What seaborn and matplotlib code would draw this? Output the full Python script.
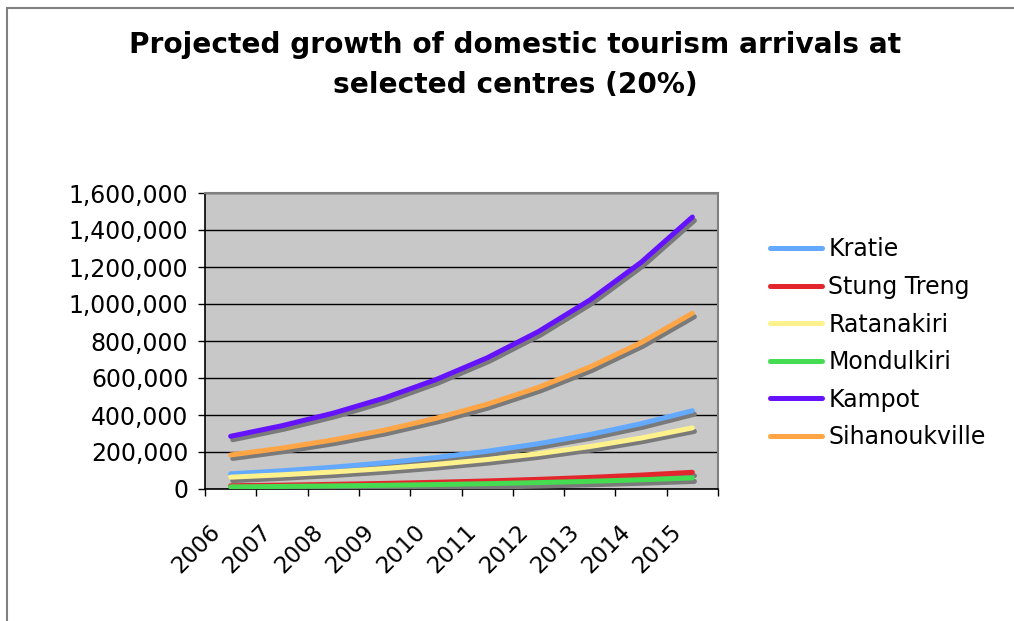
import matplotlib
matplotlib.use("Agg")
import matplotlib.pyplot as plt
import matplotlib.patheffects as pe
from matplotlib.lines import Line2D
from matplotlib.patches import Rectangle
from matplotlib.ticker import FuncFormatter, FixedLocator
import seaborn as sns
import pandas as pd

years = ["2006", "2007", "2008", "2009", "2010", "2011", "2012", "2013", "2014", "2015"]
series_names = ["Kratie", "Stung Treng", "Ratanakiri", "Mondulkiri", "Kampot", "Sihanoukville"]
kratie = [82000, 98400, 118000, 141700, 170000, 204000, 245000, 294000, 353000, 423000]
stung_treng = [17500, 21000, 25200, 30200, 36300, 43500, 52200, 62700, 75200, 90300]
ratanakiri = [64000, 76800, 92200, 110600, 132700, 159200, 191100, 229300, 275200, 330200]
mondulkiri = [11600, 13900, 16700, 20000, 24000, 28900, 34600, 41600, 49900, 59900]
kampot = [285000, 342000, 410000, 492000, 591000, 709000, 851000, 1021000, 1225000, 1470000]
sihanoukville = [184000, 221000, 265000, 318000, 382000, 458000, 549000, 659000, 791000, 950000]
yticks = [0, 200000, 400000, 600000, 800000, 1000000, 1200000, 1400000, 1600000]

colors = ["#63A9FF", "#E3262E", "#FFF28C", "#45DC52", "#6512FF", "#FFA545"]
values = [kratie, stung_treng, ratanakiri, mondulkiri, kampot, sihanoukville]

rows = []
for name, vals in zip(series_names, values):
    for i, v in enumerate(vals):
        rows.append({"idx": i, "value": v, "series": name})
df = pd.DataFrame(rows)

sns.set_theme(style="white")
plt.rcParams["font.family"] = ["DejaVu Sans"]
plt.rcParams["text.color"] = "black"
plt.rcParams["xtick.color"] = "black"
plt.rcParams["ytick.color"] = "black"

fig = plt.figure(figsize=(10.14, 6.21), dpi=100)
ax = fig.add_axes([205/1014, 1-489/621, (718-205)/1014, (489-193)/621])
ax.set_facecolor("#C8C8C8")

sns.lineplot(data=df, x="idx", y="value", hue="series", hue_order=series_names,
             palette=colors, linewidth=3.6, ax=ax, legend=False, zorder=3)
for line in ax.get_lines():
    line.set_solid_capstyle("round")
    line.set_path_effects([pe.SimpleLineShadow(offset=(1.5, -2.5), shadow_color="#7A7A7A", alpha=1.0),
                           pe.Normal()])

ax.set_xlim(-0.5, 9.5)
ax.set_ylim(0, 1600000)
ax.yaxis.set_major_locator(FixedLocator(yticks))
ax.yaxis.set_major_formatter(FuncFormatter(lambda v, p: f"{int(v):,}"))
ax.grid(axis="y", color="#000000", linewidth=1.0, zorder=1)
ax.set_axisbelow(True)

ax.set_xticks([i - 0.5 for i in range(11)])
ax.set_xticklabels([])
ax.tick_params(axis="x", which="major", direction="out", length=5, width=1, color="black", bottom=True)
ax.tick_params(axis="y", which="major", direction="out", length=5, width=1, color="black", left=True,
               labelsize=17, pad=7, labelcolor="black")
for i, y in enumerate(years):
    ax.annotate(y, xy=(i, 0), xycoords=("data", "axes fraction"), xytext=(-10, -28.5),
                textcoords="offset points", rotation=45, ha="right", va="center",
                rotation_mode="anchor", fontsize=16.5, color="black")

ax.set_xlabel("")
ax.set_ylabel("")
for side in ["top", "right"]:
    ax.spines[side].set_color("#808080")
    ax.spines[side].set_linewidth(1.5)
for side in ["left", "bottom"]:
    ax.spines[side].set_color("black")
    ax.spines[side].set_linewidth(1.2)

handles = [Line2D([0], [0], color=c, linewidth=3.6, solid_capstyle="round") for c in colors]
leg = fig.legend(handles, series_names, loc="upper left", bbox_to_anchor=(761/1014, 1-228/621),
                 frameon=False, fontsize=17, handlelength=2.2, handletextpad=0.25,
                 labelspacing=0.575, borderaxespad=0)
for t in leg.get_texts():
    t.set_color("black")

fig.text(515/1014, 1-45/621, "Projected growth of domestic tourism arrivals at",
         ha="center", va="center", fontsize=20.2, fontweight="bold", color="black")
fig.text(515/1014, 1-85/621, "selected centres (20%)",
         ha="center", va="center", fontsize=20.2, fontweight="bold", color="black")

fig.patches.append(Rectangle((7/1014, -0.1), 1.2, 1.1 - 8/621, transform=fig.transFigure,
                             fill=False, edgecolor="#808080", linewidth=1.5))

fig.savefig("out.png", dpi=100)
